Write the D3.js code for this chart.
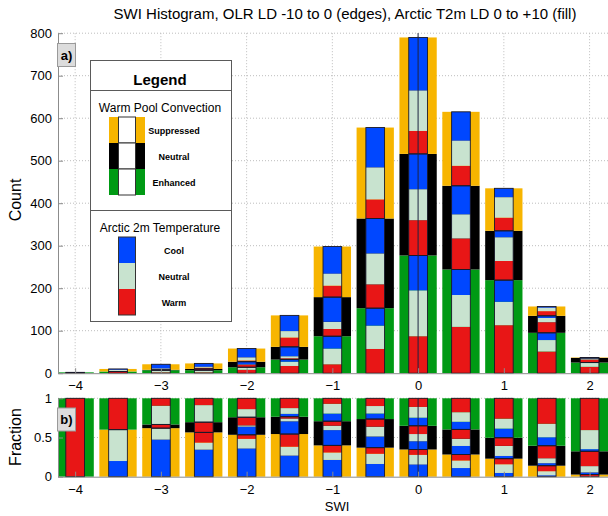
<!DOCTYPE html>
<html>
<head>
<meta charset="utf-8">
<script src="https://cdn.jsdelivr.net/npm/d3@7"></script>
<style>
    html, body { margin: 0; padding: 0; background: #fff; }
    svg { display: block; font-family: 'Liberation Sans', Arial, sans-serif; }
</style>
</head>
<body>
<div id="chart"></div>
<script>
// SWI bin centres (bin width 0.5)
const binCenters = [-4, -3.5, -3, -2.5, -2, -1.5, -1, -0.5, 0, 0.5, 1, 1.5, 2];

// Counts per bin, split by warm pool convection (edges) and Arctic T2m (fill)
const enhancedWarm = [2, 4, 2, 2, 8, 17, 21, 57, 87, 109, 113, 51, 15];
const enhancedNeutral = [0, 0, 5, 5, 6, 10, 37, 55, 108, 75, 55, 27, 9];
const enhancedCool = [0, 0, 0, 0, 0, 5, 29, 41, 82, 60, 51, 17, 1];

const neutralWarm = [0, 0, 1, 3, 6, 3, 17, 56, 83, 73, 45, 25, 7];
const neutralNeutral = [0, 0, 0, 0, 1, 5, 17, 73, 73, 57, 56, 10, 3];
const neutralCool = [0, 0, 0, 0, 6, 22, 58, 82, 83, 67, 15, 5, 1];

const suppressedWarm = [0, 0, 0, 3, 3, 22, 27, 45, 54, 47, 31, 11, 1];
const suppressedNeutral = [0, 4, 3, 2, 7, 15, 28, 75, 95, 59, 48, 8, 0];
const suppressedCool = [0, 2, 10, 8, 21, 37, 64, 94, 125, 68, 21, 3, 0];

const xTicks = [-4, -3, -2, -1, 0, 1, 2];
const countTicks = [0, 100, 200, 300, 400, 500, 600, 700, 800];
const fractionTicks = [0, 0.5, 1];
const convectionLabels = ['Suppressed', 'Neutral', 'Enhanced'];
const temperatureLabels = ['Cool', 'Neutral', 'Warm'];

const ORANGE = '#f7b500';
const BLACK = '#000000';
const GREEN = '#009a14';
const BLUE = '#0047ff';
const PALE = '#c8e3cf';
const RED = '#e81616';

const convection = [
    { color: GREEN, parts: [enhancedWarm, enhancedNeutral, enhancedCool] },
    { color: BLACK, parts: [neutralWarm, neutralNeutral, neutralCool] },
    { color: ORANGE, parts: [suppressedWarm, suppressedNeutral, suppressedCool] }
];
const fillColors = [RED, PALE, BLUE]; // warm, neutral, cool

const width = 608;
const height = 516;
const outerWidth = 0.435; // in SWI units
const innerWidth = 0.218;

const svg = d3.select('#chart').append('svg')
    .attr('width', width)
    .attr('height', height);

const x = d3.scaleLinear().domain([-4.2, 2.25]).range([58, 611]);
const yA = d3.scaleLinear().domain([0, 800]).range([373.2, 33.2]);
const yB = d3.scaleLinear().domain([0, 1]).range([476.7, 398.3]);

// bar left edge / width, trimmed at the y axis
const barX = (c, w) => Math.max(x.range()[0], x(c - w / 2));
const barW = (c, w) => x(c + w / 2) - barX(c, w);

// Build stacked segments; panel b is the flipped, normalised version of panel a
function buildSegments(fraction) {
    const segments = [];
    binCenters.forEach((center, i) => {
        const total = d3.sum(convection, c => d3.sum(c.parts, p => p[i]));
        const scale = fraction ? 1 / total : 1;
        const order = fraction ? convection.slice().reverse() : convection;
        let base = 0;
        order.forEach(c => {
            const values = c.parts.map(p => p[i] * scale);
            const fills = fillColors.slice();
            if (fraction) {
                values.reverse();
                fills.reverse();
            }
            const seg = { center, color: c.color, y0: base, y1: base + d3.sum(values), fills: [] };
            let inner = base;
            values.forEach((v, k) => {
                seg.fills.push({ y0: inner, y1: inner + v, color: fills[k] });
                inner += v;
            });
            base = seg.y1;
            if (seg.y1 > seg.y0) {
                segments.push(seg);
            }
        });
    });
    return segments;
}

function drawGrid(y, yTicks) {
    const grid = svg.append('g')
        .attr('stroke', '#bdbdbd')
        .attr('stroke-width', 1)
        .attr('stroke-dasharray', '1,2');
    yTicks.filter(t => t > 0).forEach(t => {
        grid.append('line')
            .attr('x1', x.range()[0]).attr('x2', x.range()[1])
            .attr('y1', y(t)).attr('y2', y(t));
    });
    xTicks.forEach(t => {
        grid.append('line')
            .attr('x1', x(t)).attr('x2', x(t))
            .attr('y1', y.range()[0]).attr('y2', y.range()[1]);
    });
}

function drawBars(y, segments) {
    const g = svg.append('g');
    g.selectAll('.outer')
        .data(segments)
        .enter()
        .append('rect')
        .attr('class', 'outer')
        .attr('x', d => barX(d.center, outerWidth))
        .attr('width', d => barW(d.center, outerWidth))
        .attr('y', d => y(d.y1))
        .attr('height', d => y(d.y0) - y(d.y1))
        .attr('fill', d => d.color);

    g.selectAll('.inner')
        .data(segments.flatMap(s => s.fills.map(f => Object.assign({ center: s.center }, f))))
        .enter()
        .append('rect')
        .attr('class', 'inner')
        .attr('x', d => barX(d.center, innerWidth))
        .attr('width', d => barW(d.center, innerWidth))
        .attr('y', d => y(d.y1))
        .attr('height', d => Math.max(0, y(d.y0) - y(d.y1)))
        .attr('fill', d => d.color);

    // outline around each convection group of the fill bar
    g.selectAll('.inner-edge')
        .data(segments)
        .enter()
        .append('rect')
        .attr('class', 'inner-edge')
        .attr('x', d => barX(d.center, innerWidth))
        .attr('width', d => barW(d.center, innerWidth))
        .attr('y', d => y(d.y1))
        .attr('height', d => y(d.y0) - y(d.y1))
        .attr('fill', 'none')
        .attr('stroke', '#1a1a2a')
        .attr('stroke-width', 0.9);

    // zero line
    svg.append('line')
        .attr('x1', x(0)).attr('x2', x(0))
        .attr('y1', y.range()[0]).attr('y2', y.range()[1])
        .attr('stroke', '#1c2440')
        .attr('stroke-width', 1);
}

function drawAxes(y, yTicks, yFormat) {
    const left = svg.append('g')
        .attr('transform', 'translate(' + x.range()[0] + ',0)')
        .call(d3.axisLeft(y).tickValues(yTicks).tickFormat(yFormat).tickSizeInner(-5).tickSizeOuter(0).tickPadding(6));
    const bottom = svg.append('g')
        .attr('transform', 'translate(0,' + y.range()[0] + ')')
        .call(d3.axisBottom(x).tickValues(xTicks).tickFormat(d3.format('d')).tickSizeInner(-5).tickSizeOuter(0).tickPadding(8));
    [left, bottom].forEach(a => {
        a.select('.domain').attr('stroke', '#8c8c8c');
        a.selectAll('.tick line').attr('stroke', '#8c8c8c');
        a.selectAll('text')
            .attr('font-size', 13)
            .attr('font-family', "'Liberation Sans', Arial, sans-serif")
            .attr('fill', '#000');
    });
}

function panelTag(label, px, py) {
    svg.append('rect')
        .attr('x', px).attr('y', py)
        .attr('width', 18).attr('height', 23)
        .attr('fill', '#dcdcdc')
        .attr('stroke', '#9a9a9a');
    svg.append('text')
        .attr('x', px + 9).attr('y', py + 16)
        .attr('text-anchor', 'middle')
        .attr('font-size', 13)
        .attr('font-weight', 'bold')
        .text(label);
}

// Panel a
drawGrid(yA, countTicks);
drawBars(yA, buildSegments(false));
drawAxes(yA, countTicks, d3.format('d'));

// Panel b
drawGrid(yB, fractionTicks);
drawBars(yB, buildSegments(true));
drawAxes(yB, fractionTicks, d => d === 0.5 ? '0.5' : d3.format('d')(d));

panelTag('a)', 57.5, 43.5);
panelTag('b)', 57.5, 408);

// Titles and axis labels
svg.append('text')
    .attr('x', 345).attr('y', 19)
    .attr('text-anchor', 'middle')
    .attr('font-size', 15)
    .text('SWI Histogram, OLR LD -10 to 0 (edges), Arctic T2m LD 0 to +10 (fill)');

svg.append('text')
    .attr('transform', 'translate(21,200) rotate(-90)')
    .attr('text-anchor', 'middle')
    .attr('font-size', 16)
    .text('Count');

svg.append('text')
    .attr('transform', 'translate(21,437) rotate(-90)')
    .attr('text-anchor', 'middle')
    .attr('font-size', 16)
    .text('Fraction');

svg.append('text')
    .attr('x', 337).attr('y', 511)
    .attr('text-anchor', 'middle')
    .attr('font-size', 13)
    .text('SWI');

// Legend
const legend = svg.append('g');
legend.append('rect')
    .attr('x', 90.5).attr('y', 60.5)
    .attr('width', 141).attr('height', 261)
    .attr('fill', '#fff')
    .attr('stroke', '#5a5a5a');
legend.append('text')
    .attr('x', 160).attr('y', 85)
    .attr('text-anchor', 'middle')
    .attr('font-size', 15)
    .attr('font-weight', 'bold')
    .text('Legend');
[90.5, 210.5].forEach(ly => {
    legend.append('line')
        .attr('x1', 90.5).attr('x2', 231.5)
        .attr('y1', ly).attr('y2', ly)
        .attr('stroke', '#5a5a5a');
});
legend.append('text')
    .attr('x', 160).attr('y', 112)
    .attr('text-anchor', 'middle')
    .attr('font-size', 12)
    .text('Warm Pool Convection');
legend.append('text')
    .attr('x', 160).attr('y', 232)
    .attr('text-anchor', 'middle')
    .attr('font-size', 12)
    .text('Arctic 2m Temperature');

const swatchH = 26;
[ORANGE, BLACK, GREEN].forEach((c, k) => {
    const sy = 117 + k * swatchH;
    legend.append('rect')
        .attr('x', 109).attr('y', sy)
        .attr('width', 36).attr('height', swatchH)
        .attr('fill', c);
    legend.append('rect')
        .attr('x', 118.5).attr('y', sy)
        .attr('width', 17).attr('height', swatchH)
        .attr('fill', '#fff')
        .attr('stroke', '#333');
    legend.append('text')
        .attr('x', 174).attr('y', sy + 17)
        .attr('text-anchor', 'middle')
        .attr('font-size', 9)
        .attr('font-weight', 'bold')
        .text(convectionLabels[k]);
});
[BLUE, PALE, RED].forEach((c, k) => {
    const sy = 237 + k * swatchH;
    legend.append('rect')
        .attr('x', 118.5).attr('y', sy)
        .attr('width', 17).attr('height', swatchH)
        .attr('fill', c);
    legend.append('text')
        .attr('x', 174).attr('y', sy + 17)
        .attr('text-anchor', 'middle')
        .attr('font-size', 9)
        .attr('font-weight', 'bold')
        .text(temperatureLabels[k]);
});
legend.append('rect')
    .attr('x', 118.5).attr('y', 237)
    .attr('width', 17).attr('height', swatchH * 3)
    .attr('fill', 'none')
    .attr('stroke', '#333');
</script>
</body>
</html>
